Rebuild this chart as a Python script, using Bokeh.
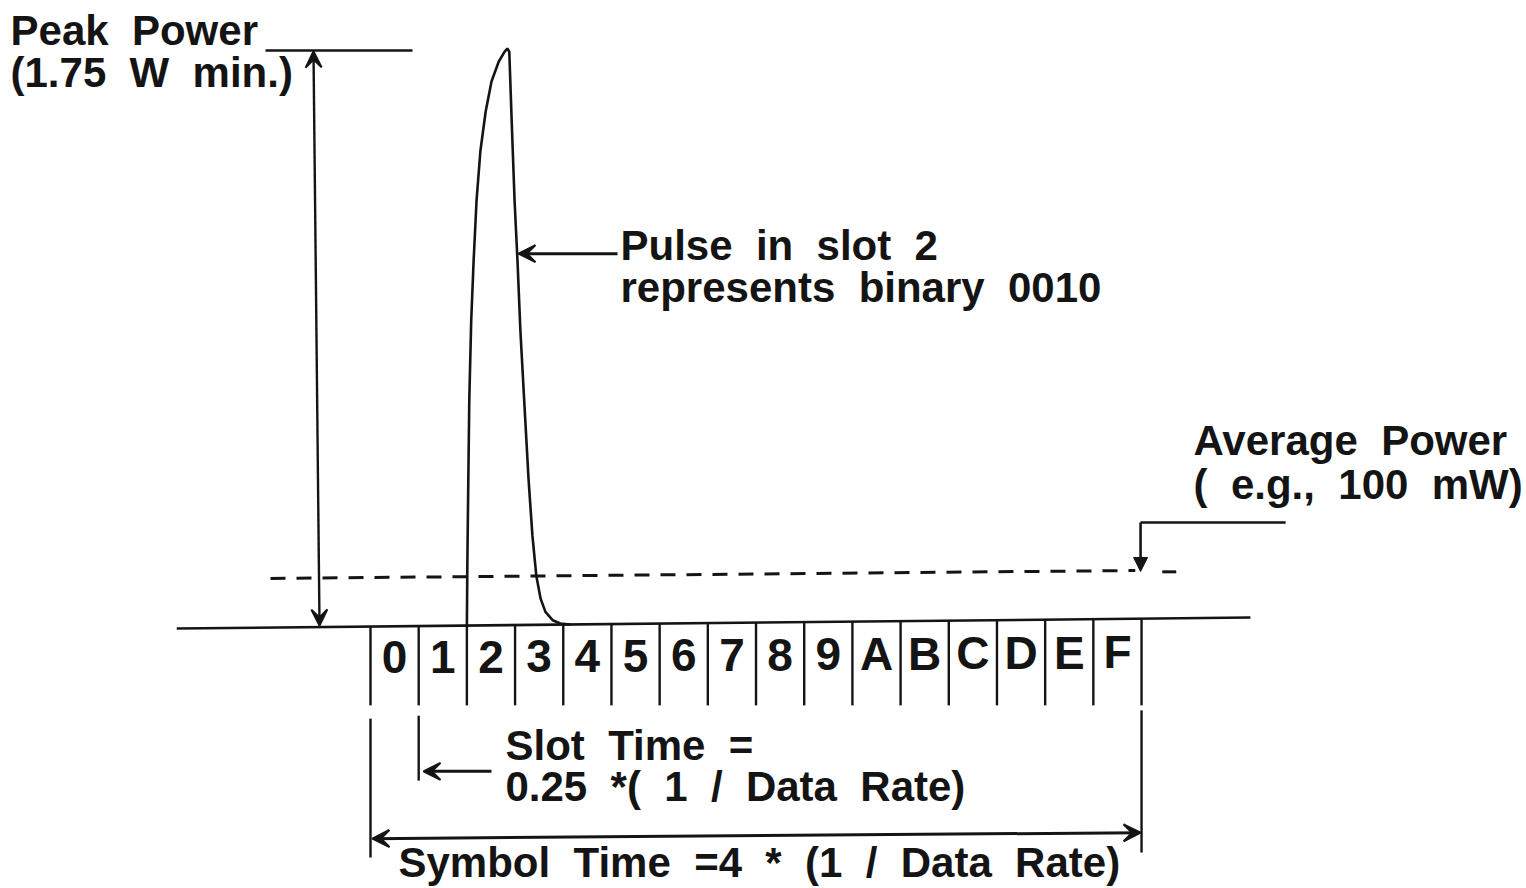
import numpy as np
from bokeh.plotting import figure
from bokeh.models import Range1d, Arrow, VeeHead, NormalHead, Label, ColumnDataSource
from bokeh.core.properties import value
from bokeh.embed import file_html
from bokeh.resources import INLINE

# ---------------- data (x in slot units, y in power units, peak = 1.75 W) ----------------
slot_labels = list("0123456789ABCDEF")
slot_edges = list(range(17))
peak_power = 1.75

# pulse in slot 2
pulse_x = [2.00, 2.01, 2.03, 2.05, 2.09, 2.14, 2.20, 2.28, 2.39, 2.51, 2.66, 2.78, 2.84,
           2.88, 2.93, 2.99, 3.05, 3.11, 3.20, 3.28, 3.36, 3.44, 3.53, 3.63, 3.78, 3.94, 4.15]
pulse_y = [0.009, 0.20, 0.45, 0.69, 0.93, 1.11, 1.29, 1.44, 1.56, 1.65, 1.71, 1.74, 1.75,
           1.74, 1.53, 1.29, 1.11, 0.90, 0.66, 0.45, 0.28, 0.16, 0.09, 0.05, 0.025, 0.015, 0.012]

# baseline (scan is slightly tilted)
base_x = [-4.02, 18.26]
base_y = [0.0, 0.033]

# average power level (dashed)
avg_x = [-2.075, 15.87]
avg_y = [0.151, 0.175]

# ---------------- style ----------------
INK = "#141414"
FONT = "Liberation Sans"
FS = "42px"
SP = " \u00a0"   # wide word gap as in the original typesetting

W, H = 1526, 888
SLOT_PX = 48.19
P_PX = 331.43
X0_PX, Y0_PX = 370.0, 628.0   # position of slot edge 0 / zero power

p = figure(width=W, height=H,
           x_range=Range1d(-X0_PX / SLOT_PX, (W - X0_PX) / SLOT_PX),
           y_range=Range1d((Y0_PX - H) / P_PX, Y0_PX / P_PX),
           output_backend="svg", toolbar_location=None, min_border=0,
           x_axis_location=None, y_axis_location=None)
p.grid.visible = False
p.outline_line_color = None
p.background_fill_color = "white"
p.border_fill_color = "white"

# baseline
p.line(base_x, base_y, line_color=INK, line_width=2.6)

# dashed average-power line
p.line(avg_x, avg_y, line_color=INK, line_width=3, line_dash="15 11")
p.segment(x0=[16.43], y0=[0.171], x1=[16.72], y1=[0.171], line_color=INK, line_width=3)

# slot boundary ticks
edges = np.array(slot_edges, dtype=float)
tick_top = np.interp(edges, base_x, base_y)
p.segment(x0=edges, y0=tick_top, x1=edges, y1=np.full(len(edges), -0.232),
          line_color=INK, line_width=2.4)
# long extension lines for symbol and slot time
p.segment(x0=[0.0, 16.0, 1.0], y0=[-0.272, -0.247, -0.263],
          x1=[0.0, 16.0, 1.0], y1=[-0.691, -0.676, -0.459],
          line_color=INK, line_width=2.4)

# pulse
p.line(pulse_x, pulse_y, line_color=INK, line_width=2.6)

# slot labels
lab_x = edges[:-1] + 0.5
lab_y = np.interp(lab_x, [0.5, 15.5], [-0.087, -0.072])
src = ColumnDataSource(dict(x=lab_x, y=lab_y, t=slot_labels))
p.text(x="x", y="y", text="t", source=src, text_align="center", text_baseline="middle",
       text_font=value(FONT), text_font_style="bold", text_font_size="46px", text_color=INK)

# peak power marker line and double arrow
p.segment(x0=[-2.179], y0=[1.744], x1=[0.872], y1=[1.744], line_color=INK, line_width=2.4)
p.add_layout(Arrow(x_start=-1.058, y_start=0.009, x_end=-1.183, y_end=1.741,
                   start=VeeHead(size=16, fill_color=INK, line_color=INK, line_width=2),
                   end=VeeHead(size=16, fill_color=INK, line_color=INK, line_width=2),
                   line_color=INK, line_width=2.4))

# pulse pointer arrow
p.add_layout(Arrow(x_start=5.126, y_start=1.131, x_end=3.071, y_end=1.131,
                   end=VeeHead(size=17, fill_color=INK, line_color=INK, line_width=2),
                   line_color=INK, line_width=3))

# average power pointer
p.segment(x0=[15.98], y0=[0.320], x1=[18.99], y1=[0.320], line_color=INK, line_width=2.6)
p.add_layout(Arrow(x_start=15.98, y_start=0.320, x_end=15.98, y_end=0.172,
                   end=NormalHead(size=14, fill_color=INK, line_color=INK),
                   line_color=INK, line_width=2.6))

# slot time arrow
p.add_layout(Arrow(x_start=2.51, y_start=-0.431, x_end=1.10, y_end=-0.431,
                   end=VeeHead(size=17, fill_color=INK, line_color=INK, line_width=2),
                   line_color=INK, line_width=3))

# symbol time arrow
p.add_layout(Arrow(x_start=0.04, y_start=-0.634, x_end=15.98, y_end=-0.616,
                   start=VeeHead(size=17, fill_color=INK, line_color=INK, line_width=2),
                   end=VeeHead(size=17, fill_color=INK, line_color=INK, line_width=2),
                   line_color=INK, line_width=3))

# texts
texts = [
    ("Peak" + SP + "Power", -7.47, 1.804),
    ("(1.75" + SP + "W" + SP + "min.)", -7.47, 1.678),
    ("Pulse" + SP + "in" + SP + "slot" + SP + "2", 5.188, 1.156),
    ("represents" + SP + "binary" + SP + "0010", 5.188, 1.029),
    ("Average" + SP + "Power", 17.08, 0.567),
    ("(" + SP + "e.g.," + SP + "100" + SP + "mW)", 17.08, 0.435),
    ("Slot" + SP + "Time" + SP + "=", 2.801, -0.353),
    ("0.25" + SP + "*(" + SP + "1" + SP + "/" + SP + "Data" + SP + "Rate)", 2.801, -0.477),
    ("Symbol" + SP + "Time" + SP + "=4" + SP + "*" + SP + "(1" + SP + "/" + SP + "Data"
     + SP + "Rate)", 0.581, -0.706),
]
for t, x, y in texts:
    p.add_layout(Label(x=x, y=y, text=t, text_font=FONT, text_font_style="bold",
                       text_font_size=FS, text_color=INK, text_baseline="middle",
                       text_align="left"))

open("out.html", "w").write(file_html(p, INLINE))
